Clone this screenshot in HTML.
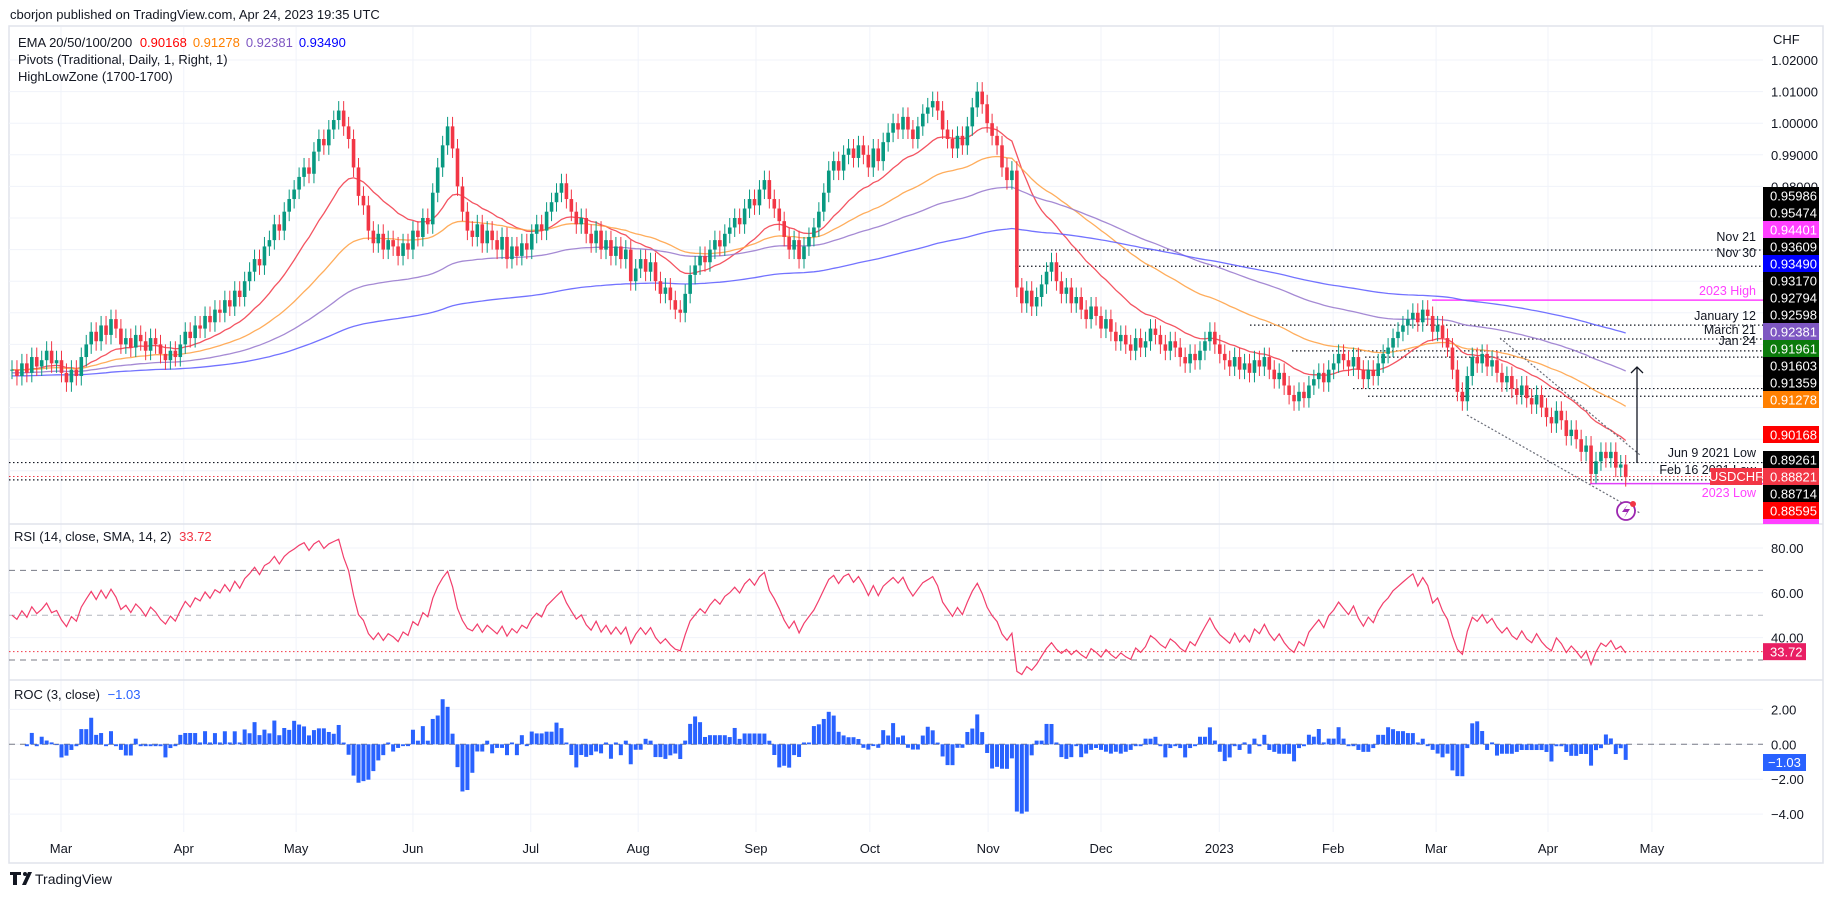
<!DOCTYPE html>
<html><head><meta charset="utf-8"><style>
html,body{margin:0;padding:0;background:#fff;}
svg{display:block;font-family:"Liberation Sans",sans-serif;}
</style></head><body>
<svg id="chart" width="1833" height="898" viewBox="0 0 1833 898" xmlns="http://www.w3.org/2000/svg">
<text x="10" y="19" font-size="13" fill="#131722">cborjon published on TradingView.com, Apr 24, 2023 19:35 UTC</text>
<rect x="9" y="26" width="1814" height="837" fill="none" stroke="#e0e3eb" stroke-width="1.5"/>
<g id="grid"></g>
<g id="price"></g>
<g id="rsi"></g>
<g id="roc"></g>
<g id="axis"></g>
<text x="18" y="47" font-size="13" fill="#131722">EMA 20/50/100/200 <tspan fill="#ff0000" dx="4">0.90168</tspan><tspan fill="#ff8000" dx="6">0.91278</tspan><tspan fill="#7e57c2" dx="6">0.92381</tspan><tspan fill="#0000ff" dx="6">0.93490</tspan></text>
<text x="18" y="64" font-size="13" fill="#131722">Pivots (Traditional, Daily, 1, Right, 1)</text>
<text x="18" y="81" font-size="13" fill="#131722">HighLowZone (1700-1700)</text>
<text x="14" y="541" font-size="13" fill="#131722">RSI (14, close, SMA, 14, 2) <tspan fill="#f23645" dx="4">33.72</tspan></text>
<text x="14" y="699" font-size="13" fill="#131722">ROC (3, close) <tspan fill="#2962ff" dx="4">−1.03</tspan></text>
<g>
<path d="M10 872h11v3h-4v10h-4v-10h-3z M22 885l6-13h4l-6 13z" fill="#131722"/>
<circle cx="25" cy="874" r="2" fill="#131722"/>
<text x="35" y="884" font-size="14" fill="#131722">TradingView</text>
</g>
</svg>
<script>
const closes = [
0.922,0.920,0.924,0.921,0.926,0.923,0.925,0.928,0.924,0.925,
0.921,0.918,0.922,0.920,0.926,0.930,0.934,0.931,0.936,0.933,
0.938,0.935,0.930,0.932,0.929,0.933,0.931,0.928,0.932,0.930,
0.927,0.925,0.928,0.926,0.930,0.934,0.932,0.936,0.935,0.939,
0.937,0.941,0.940,0.944,0.942,0.947,0.945,0.950,0.953,0.957,
0.955,0.961,0.963,0.968,0.966,0.972,0.976,0.979,0.983,0.986,
0.984,0.991,0.995,0.993,0.998,1.001,1.004,0.999,0.995,0.986,
0.977,0.974,0.966,0.962,0.965,0.960,0.963,0.961,0.958,0.962,
0.960,0.966,0.964,0.970,0.968,0.978,0.986,0.993,0.999,0.992,
0.980,0.972,0.966,0.964,0.968,0.962,0.966,0.963,0.960,0.964,
0.957,0.961,0.958,0.962,0.960,0.965,0.968,0.966,0.972,0.975,
0.978,0.981,0.976,0.972,0.968,0.970,0.965,0.962,0.966,0.960,
0.963,0.958,0.961,0.957,0.960,0.950,0.954,0.957,0.953,0.956,
0.950,0.946,0.948,0.944,0.941,0.940,0.946,0.952,0.955,0.958,
0.956,0.960,0.963,0.961,0.965,0.967,0.970,0.968,0.973,0.976,
0.974,0.979,0.982,0.976,0.973,0.969,0.964,0.960,0.963,0.957,
0.961,0.964,0.967,0.972,0.978,0.985,0.988,0.985,0.990,0.992,
0.989,0.993,0.990,0.986,0.992,0.988,0.994,0.997,1.000,0.998,
1.002,0.998,0.995,0.999,1.003,1.005,1.007,1.004,0.998,0.995,
0.992,0.996,0.993,0.999,1.005,1.010,1.006,1.000,0.996,0.993,
0.986,0.982,0.985,0.948,0.943,0.947,0.942,0.945,0.949,0.953,
0.956,0.950,0.946,0.948,0.943,0.945,0.941,0.938,0.942,0.939,
0.935,0.938,0.934,0.931,0.933,0.930,0.928,0.932,0.929,0.931,
0.935,0.933,0.930,0.928,0.931,0.929,0.926,0.924,0.927,0.925,
0.928,0.931,0.934,0.930,0.927,0.925,0.923,0.926,0.922,0.924,
0.921,0.925,0.923,0.926,0.922,0.919,0.921,0.917,0.914,0.912,
0.915,0.913,0.917,0.919,0.921,0.918,0.922,0.924,0.927,0.925,
0.923,0.926,0.922,0.919,0.922,0.920,0.924,0.927,0.929,0.932,
0.934,0.936,0.938,0.940,0.937,0.941,0.939,0.934,0.936,0.932,
0.929,0.922,0.915,0.912,0.920,0.926,0.924,0.927,0.923,0.925,
0.921,0.918,0.920,0.916,0.914,0.917,0.913,0.911,0.914,0.910,
0.907,0.905,0.909,0.906,0.901,0.903,0.900,0.896,0.898,0.889,
0.893,0.896,0.894,0.896,0.891,0.892,0.888
];
const monthLabels = ["Mar","Apr","May","Jun","Jul","Aug","Sep","Oct","Nov","Dec","2023","Feb","Mar","Apr","May"];
const monthBars = [9.9,34.7,57.4,81,104.8,126.5,150.3,173.3,197.2,220,243.9,266.9,287.7,310.3,331.3];
const priceTicks = [1.02,1.01,1.00,0.99,0.98];
const rsiTicks = [80,60,40];
const rocTicks = [2,0,-2,-4];

const NS="http://www.w3.org/2000/svg";
function mk(tag,attrs,parent){const e=document.createElementNS(NS,tag);for(const k in attrs)e.setAttribute(k,attrs[k]);parent.appendChild(e);return e;}
const X=i=>12+i*4.95;
const PY=p=>60+(1.02-p)*3160;
const RY=v=>548+(80-v)*2.24;
const OY=v=>744.3-v*17.45;
const grid=document.getElementById('grid'),price=document.getElementById('price'),rsiG=document.getElementById('rsi'),rocG=document.getElementById('roc'),axis=document.getElementById('axis');

monthBars.forEach((b,k)=>{
  const l=mk('line',{x1:X(b),x2:X(b),y1:27,y2:832,stroke:'#f0f3fa','stroke-width':1},grid);
  
  
  const t=mk('text',{x:X(b),y:853,'font-size':13,fill:'#131722','text-anchor':'middle'},axis);
  t.textContent=monthLabels[k];
  
  
});
priceTicks.forEach(p=>{
  const l=mk('line',{x1:9,x2:1763,y1:PY(p),y2:PY(p),stroke:'#f0f3fa'},grid);
  
  
  const t=mk('text',{x:1771,y:PY(p)+5,'font-size':13,fill:'#131722'},axis);
  t.textContent=p.toFixed(5);
  
  
});
[0.97,0.96,0.95,0.94,0.93,0.92,0.91,0.90,0.89].forEach(p=>{
  const l=mk('line',{x1:9,x2:1763,y1:PY(p),y2:PY(p),stroke:'#f0f3fa'},grid);
  
  
});
rsiTicks.forEach(v=>{
  const l=mk('line',{x1:9,x2:1763,y1:RY(v),y2:RY(v),stroke:'#f0f3fa'},grid);
  
  
  const t=mk('text',{x:1771,y:RY(v)+5,'font-size':13,fill:'#131722'},axis);
  t.textContent=v.toFixed(2);
  
  
});
rocTicks.forEach(v=>{
  const l=mk('line',{x1:9,x2:1763,y1:OY(v),y2:OY(v),stroke:'#f0f3fa'},grid);
  
  
  const t=mk('text',{x:1771,y:OY(v)+5,'font-size':13,fill:'#131722'},axis);
  t.textContent=(v<0?'−':'')+Math.abs(v).toFixed(2);
  
  
});
[524,680].forEach(y=>{
  const l=mk('line',{x1:9,x2:1823,y1:y,y2:y,stroke:'#e0e3eb','stroke-width':1.5},axis);
  
  
});
const ca=mk('text',{x:1773,y:44,'font-size':13,fill:'#131722'},axis);ca.textContent='CHF';



const levels=[[1015,0.95986,'Nov 21'],[1015,0.95474,'Nov 30'],[1250,0.93609,'January 12'],[1500,0.93170,'March 21'],[1292,0.92794,'Jan 24'],[1365,0.92598,''],[1353,0.91603,''],[1368,0.91359,''],[9,0.89261,'Jun 9 2021 Low'],[9,0.88714,'Feb 16 2021 Low']];
const labelY={'Nov 21':241,'Nov 30':257,'January 12':320,'March 21':334,'Jan 24':345,'Jun 9 2021 Low':457,'Feb 16 2021 Low':474};
levels.forEach(L=>{
  const l=mk('line',{x1:L[0],x2:1763,y1:PY(L[1]),y2:PY(L[1]),stroke:'#131722','stroke-width':1.2,'stroke-dasharray':'1.5 2.5'},price);
  
  
  if(L[2]){const t=mk('text',{x:1756,y:labelY[L[2]],'font-size':12.5,fill:'#131722','text-anchor':'end'},price);t.textContent=L[2];
  
  }
});
const hi=mk('line',{x1:1432,x2:1763,y1:PY(0.94401),y2:PY(0.94401),stroke:'#ff40ff','stroke-width':1.5},price);


const hit=mk('text',{x:1756,y:295,'font-size':12.5,fill:'#ff40ff','text-anchor':'end'},price);hit.textContent='2023 High';


const lo=mk('line',{x1:1590,x2:1763,y1:PY(0.88595),y2:PY(0.88595),stroke:'#e040fb','stroke-width':1.5},price);


const lot=mk('text',{x:1756,y:497,'font-size':12.5,fill:'#ff40ff','text-anchor':'end'},price);lot.textContent='2023 Low';


const cur=mk('line',{x1:9,x2:1763,y1:PY(0.88821),y2:PY(0.88821),stroke:'#f23645','stroke-width':1,'stroke-dasharray':'1.5 2.5'},price);



function ema(n,seed){const a=2/(n+1);let v=seed;return closes.map(c=>(v=v+a*(c-v)));}
[[20,0.922,'#f23645','ema-20'],[50,0.922,'#ff9f40','ema-50'],[100,0.921,'#9575cd','ema-100'],[200,0.920,'#5b5bff','ema-200']].forEach(e=>{
  const v=ema(e[0],e[1]);
  const p=mk('path',{d:v.map((y,i)=>(i?'L':'M')+X(i).toFixed(1)+' '+PY(y).toFixed(1)).join(''),fill:'none',stroke:e[2],'stroke-width':1.3,'stroke-opacity':0.85},price);
  
  
});

closes.forEach((c,i)=>{
  const o=i?closes[i-1]:c;const up=c>=o;const col=up?'#089981':'#f23645';
  const h=Math.max(o,c)+0.003,l=Math.min(o,c)-0.003;
  const w=mk('line',{x1:X(i),x2:X(i),y1:PY(h),y2:PY(l),stroke:col,'stroke-width':1},price);
  
  
  const top=PY(Math.max(o,c)),bh=Math.max(1,PY(Math.min(o,c))-top);
  const r=mk('rect',{x:X(i)-1.8,y:top,width:3.6,height:bh,fill:col},price);
  
  
});

[[1500,338,1640,455],[1467,415,1640,513]].forEach(t=>{
  const l=mk('line',{x1:t[0],y1:t[1],x2:t[2],y2:t[3],stroke:'#6a6d78','stroke-width':1.2,'stroke-dasharray':'2 2'},price);
  
  
});
const ar=mk('path',{d:'M1637 463V367M1631 373L1637 367L1643 373',stroke:'#131722','stroke-width':1.3,fill:'none'},price);


const ic=mk('g',{},price);


mk('circle',{cx:1626,cy:511,r:9,fill:'#fff',stroke:'#9c27b0','stroke-width':1.8},ic);
mk('path',{d:'M1628 504L1622 512H1627L1624 518L1630 509H1625Z',fill:'#9c27b0'},ic);
mk('circle',{cx:1633,cy:504,r:3,fill:'#f23645'},ic);

const boxes=[['0.95986',195.5,'#000'],['0.95474',212.5,'#000'],['0.94401',229.5,'#ff40ff'],['0.93609',246.5,'#000'],['0.93490',263.5,'#0000ff'],['0.93170',280.5,'#000'],['0.92794',297.5,'#000'],['0.92598',314.5,'#000'],['0.92381',331.5,'#7e57c2'],['0.91961',348.5,'#0b7a0b'],['0.91603',365.5,'#000'],['0.91359',382.5,'#000'],['0.91278',399.5,'#ff8000'],['0.90168',434.5,'#ff0000'],['0.89261',459.5,'#000'],['0.88821',476.5,'#f23645'],['0.88714',493.5,'#000'],['0.88595',510.5,'#ff0000']];
boxes.forEach(b=>{
  const g=mk('g',{},axis);
  
  
  mk('rect',{x:1763,y:b[1]-8.5,width:56,height:17,fill:b[2]},g);
  const t=mk('text',{x:1770,y:b[1]+5,'font-size':13,fill:'#fff'},g);t.textContent=b[0];
});
const mg=mk('rect',{x:1763,y:519,width:56,height:5,fill:'#ff40ff'},axis);


const sym=mk('g',{},axis);


mk('rect',{x:1710,y:468,width:52,height:17,fill:'#f23645'},sym);
const st=mk('text',{x:1736,y:481,'font-size':13,fill:'#fff','text-anchor':'middle'},sym);st.textContent='USDCHF';

[[70,'#787b86'],[50,'#b2b5be'],[30,'#787b86']].forEach(d=>{
  const l=mk('line',{x1:9,x2:1763,y1:RY(d[0]),y2:RY(d[0]),stroke:d[1],'stroke-width':1,'stroke-dasharray':'6 5'},rsiG);
  
  
});
let ag=0.002,al=0.002;const rsi=closes.map((c,i)=>{if(i){const d=c-closes[i-1];ag=(ag*13+Math.max(d,0))/14;al=(al*13+Math.max(-d,0))/14;}return 100-100/(1+ag/al);});
const rp=mk('path',{d:rsi.map((v,i)=>(i?'L':'M')+X(i).toFixed(1)+' '+RY(v).toFixed(1)).join(''),fill:'none',stroke:'#f23e6c','stroke-width':1.2},rsiG);


const rl=mk('line',{x1:9,x2:1763,y1:RY(33.72),y2:RY(33.72),stroke:'#f23645','stroke-dasharray':'1.5 2.5'},rsiG);


const rb=mk('g',{},axis);


mk('rect',{x:1763,y:RY(33.72)-8.5,width:43,height:17,fill:'#e91e63'},rb);
const rbt=mk('text',{x:1770,y:RY(33.72)+5,'font-size':13,fill:'#fff'},rb);rbt.textContent='33.72';

const zl=mk('line',{x1:9,x2:1763,y1:OY(0),y2:OY(0),stroke:'#787b86','stroke-dasharray':'6 5'},rocG);


closes.forEach((c,i)=>{
  if(i<3)return;const v=(c-closes[i-3])/closes[i-3]*100;
  const y0=OY(0),y1=OY(v);
  const r=mk('rect',{x:X(i)-2,y:Math.min(y0,y1),width:4,height:Math.max(0.8,Math.abs(y1-y0)),fill:'#2962ff'},rocG);
  
  
});
const ob=mk('g',{},axis);


mk('rect',{x:1763,y:754,width:43,height:17,fill:'#2962ff'},ob);
const obt=mk('text',{x:1768,y:767,'font-size':13,fill:'#fff'},ob);obt.textContent='−1.03';
</script>
</body></html>
